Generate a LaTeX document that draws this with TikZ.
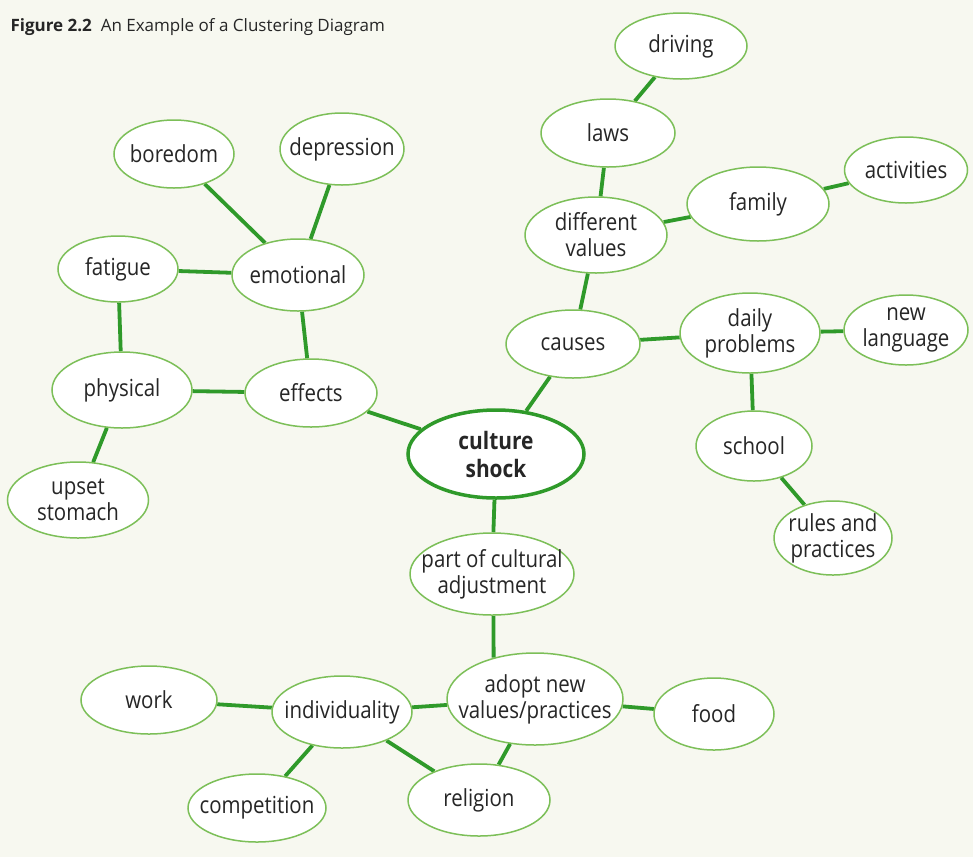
\documentclass[tikz,border=0pt]{standalone}
\usepackage{fontspec}
\setmainfont{Open Sans}
\newfontfamily\nodefont{Open Sans}[FakeStretch=0.87]
\usetikzlibrary{shapes.geometric}
\definecolor{bg}{HTML}{F7F8F0}
\definecolor{edgegreen}{HTML}{2F9A2A}
\definecolor{rimgreen}{HTML}{7CBF58}
\definecolor{txt}{HTML}{262626}
\pgfdeclarelayer{background}
\pgfsetlayers{background,main}
\begin{document}
\begin{tikzpicture}[x=1pt,y=-1pt,
  bubble/.style={ellipse, draw=rimgreen, line width=1.5pt, fill=white, inner sep=-20pt, align=center,
     text=txt, font=\nodefont\fontsize{23.5}{26}\selectfont},
  hub/.style={bubble, draw=edgegreen, line width=3.5pt, font=\nodefont\fontsize{24}{28}\selectfont\bfseries},
  link/.style={draw=edgegreen, line width=3.8pt}]
\useasboundingbox (0,0) rectangle (973,857);

\node[anchor=west, text=txt, font=\fontsize{17}{20}\selectfont] (title) at (7,27) {\textbf{Figure 2.2}\ \ An Example of a Clustering Diagram};

% nodes
\node[bubble, minimum width=132, minimum height=66] (driving) at (681,46) {driving};
\node[bubble, minimum width=134, minimum height=68] (laws) at (608,133) {laws};
\node[bubble, minimum width=120, minimum height=68] (boredom) at (174,154) {boredom};
\node[bubble, minimum width=124, minimum height=72] (depression) at (342,149) {depression};
\node[bubble, minimum width=123, minimum height=66] (activities) at (906,170) {activities};
\node[bubble, minimum width=142, minimum height=74] (family) at (758,204) {family};
\node[bubble, minimum width=142, minimum height=76] (values) at (596,235) {different\\values};
\node[bubble, minimum width=120, minimum height=66] (fatigue) at (118,269) {fatigue};
\node[bubble, minimum width=132, minimum height=72] (emotional) at (298,275) {emotional};
\node[bubble, minimum width=134, minimum height=68] (causes) at (573,344) {causes};
\node[bubble, minimum width=140, minimum height=80] (daily) at (750,333) {daily\\problems};
\node[bubble, minimum width=124, minimum height=70] (language) at (906,330) {new\\language};
\node[bubble, minimum width=140, minimum height=76] (physical) at (122,390) {physical};
\node[bubble, minimum width=132, minimum height=68] (effects) at (311,393) {effects};
\node[bubble, minimum width=116, minimum height=70] (school) at (754,446) {school};
\node[bubble, minimum width=141, minimum height=76] (stomach) at (78,500) {upset\\stomach};
\node[bubble, minimum width=118, minimum height=74] (rules) at (833,538) {rules and\\practices};
\node[bubble, minimum width=164, minimum height=82] (part) at (492,574) {part of cultural\\adjustment};
\node[bubble, minimum width=176, minimum height=92] (adopt) at (535,699) {adopt new\\values/practices};
\node[bubble, minimum width=136, minimum height=68] (work) at (149,700) {work};
\node[bubble, minimum width=140, minimum height=72] (indiv) at (342,712) {individuality};
\node[bubble, minimum width=120, minimum height=72] (food) at (714,714) {food};
\node[bubble, minimum width=138, minimum height=68] (competition) at (257,808) {competition};
\node[bubble, minimum width=142, minimum height=72] (religion) at (479,800) {religion};
\node[hub, minimum width=176, minimum height=88] (shock) at (496,454) {culture\\shock};

% connectors
\begin{pgfonlayer}{background}
\fill[bg] (0,0) rectangle (973,857);
\draw[link] (driving) -- (laws);
\draw[link] (laws) -- (values);
\draw[link] (values) -- (family);
\draw[link] (family) -- (activities);
\draw[link] (values) -- (causes);
\draw[link] (causes) -- (shock);
\draw[link] (causes) -- (daily);
\draw[link] (daily) -- (language);
\draw[link] (daily) -- (school);
\draw[link] (school) -- (rules);
\draw[link] (shock) -- (effects);
\draw[link] (effects) -- (physical);
\draw[link] (effects) -- (emotional);
\draw[link] (emotional) -- (fatigue);
\draw[link] (emotional) -- (boredom);
\draw[link] (emotional) -- (depression);
\draw[link] (fatigue) -- (physical);
\draw[link] (physical) -- (stomach);
\draw[link] (shock) -- (part);
\draw[link] (part.-88) -- (adopt.135);
\draw[link] (adopt) -- (food);
\draw[link] (adopt) -- (indiv);
\draw[link] (adopt) -- (religion);
\draw[link] (indiv) -- (work);
\draw[link] (indiv) -- (competition);
\draw[link] (indiv) -- (religion);
\end{pgfonlayer}
\end{tikzpicture}
\end{document}
